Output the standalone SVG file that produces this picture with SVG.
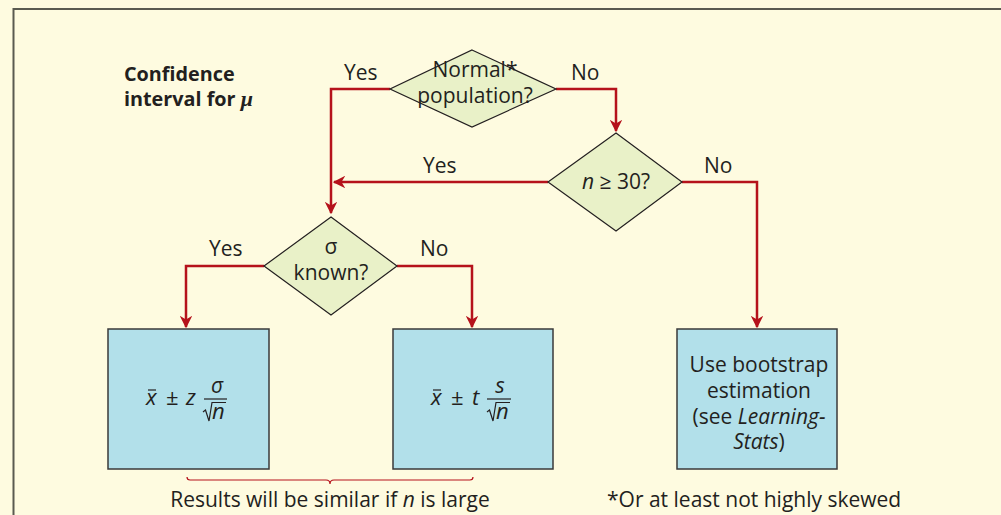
<svg xmlns="http://www.w3.org/2000/svg" width="1001" height="515" viewBox="0 0 1001 515">
<style>
text{font-family:"Open Sans","Noto Sans","Liberation Sans",sans-serif;fill:#231f20;font-size:21px}
.c{text-anchor:middle}
.b{font-weight:bold;font-size:19.8px}
.i{font-style:italic}
.f{font-size:22px}
.dia{fill:#e9f1c8;stroke:#231f20;stroke-width:1.2}
.box{fill:#b2e0ea;stroke:#3a3a3a;stroke-width:1.5}
.con{fill:none;stroke:#b5121b;stroke-width:2.5}
.ml{fill:none;stroke:#231f20;stroke-width:1.2}
</style>
<defs>
<marker id="ah" viewBox="0 0 10 10" refX="9" refY="5" markerWidth="5" markerHeight="5" orient="auto" markerUnits="strokeWidth">
<path d="M0,0 L10,5 L0,10 L3,5 Z" fill="#b5121b"/>
</marker>
</defs>
<rect x="0" y="0" width="1001" height="515" fill="#fefbe0"/>
<path d="M13.5,515 V9 H1001" fill="none" stroke="#5a5a50" stroke-width="2"/>
<text class="b" x="124" y="81">Confidence</text>
<text class="b" x="124" y="106">interval for <tspan font-style="italic" font-family="'Liberation Serif',serif" font-size="22">μ</tspan></text>
<g id="connectors">
<path class="con" d="M390,89 H331 V213" marker-end="url(#ah)"/>
<path class="con" d="M556,89 H616 V131" marker-end="url(#ah)"/>
<path class="con" d="M548,182 H334" marker-end="url(#ah)"/>
<path class="con" d="M682,182 H757 V327" marker-end="url(#ah)"/>
<path class="con" d="M264,266 H186 V327" marker-end="url(#ah)"/>
<path class="con" d="M397,266 H472 V327" marker-end="url(#ah)"/>
<text x="344" y="80">Yes</text>
<text x="571" y="80">No</text>
<text x="423" y="173">Yes</text>
<text x="704" y="173">No</text>
<text x="209" y="256">Yes</text>
<text x="420" y="256">No</text>
</g>
<g id="normal">
<polygon class="dia" points="472,50 556,89 472,127 390,89"/>
<text class="c" x="475" y="77">Normal*</text>
<text class="c" x="475" y="103">population?</text>
</g>
<g id="n30">
<polygon class="dia" points="616,133 682,182 616,231 548,182"/>
<text class="c" x="616" y="189"><tspan class="i">n</tspan> ≥ 30?</text>
</g>
<g id="sigma">
<polygon class="dia" points="331,217 397,266 331,315 264,266"/>
<text class="c" x="331" y="254" font-family="'Liberation Serif',serif">σ</text>
<text class="c" x="331" y="280">known?</text>
</g>
<g id="zbox">
<rect class="box" x="108" y="329" width="161" height="140"/>
<text x="146" y="405" class="i f">x</text>
<line class="ml" x1="148" y1="390" x2="156" y2="390"/>
<text x="166" y="405" class="f">±</text>
<text x="186" y="405" class="i f">z</text>
<text x="217" y="393" class="c i" font-family="'Liberation Serif',serif" font-size="22">σ</text>
<line class="ml" x1="204" y1="399" x2="227" y2="399"/>
<path class="ml" d="M203,412 L205.5,410 L209,421 L212,402.5 H226"/>
<text x="212" y="419" class="i f">n</text>
</g>
<g id="tbox">
<rect class="box" x="393" y="329" width="160" height="140"/>
<text x="431" y="405" class="i f">x</text>
<line class="ml" x1="433" y1="390" x2="441" y2="390"/>
<text x="451" y="405" class="f">±</text>
<text x="472" y="405" class="i f">t</text>
<text x="500" y="393" class="c i f">s</text>
<line class="ml" x1="487" y1="399" x2="511" y2="399"/>
<path class="ml" d="M487,412 L489.5,410 L493,421 L496,402.5 H510"/>
<text x="496" y="419" class="i f">n</text>
</g>
<g id="bootbox">
<rect class="box" x="677" y="329" width="160" height="140"/>
<text class="c" x="759" y="372">Use bootstrap</text>
<text class="c" x="759" y="398">estimation</text>
<text class="c" x="759" y="424">(see <tspan class="i">Learning-</tspan></text>
<text class="c" x="759" y="449"><tspan class="i">Stats</tspan>)</text>
</g>
<path d="M187,477 Q187,480 190,480 H326 Q330,480 330,484 Q330,480 334,480 H470 Q473,480 473,477" fill="none" stroke="#b5121b" stroke-width="1.2"/>
<text class="c" x="330" y="507">Results will be similar if <tspan class="i">n</tspan> is large</text>
<text x="607" y="507">*Or at least not highly skewed</text>
</svg>
